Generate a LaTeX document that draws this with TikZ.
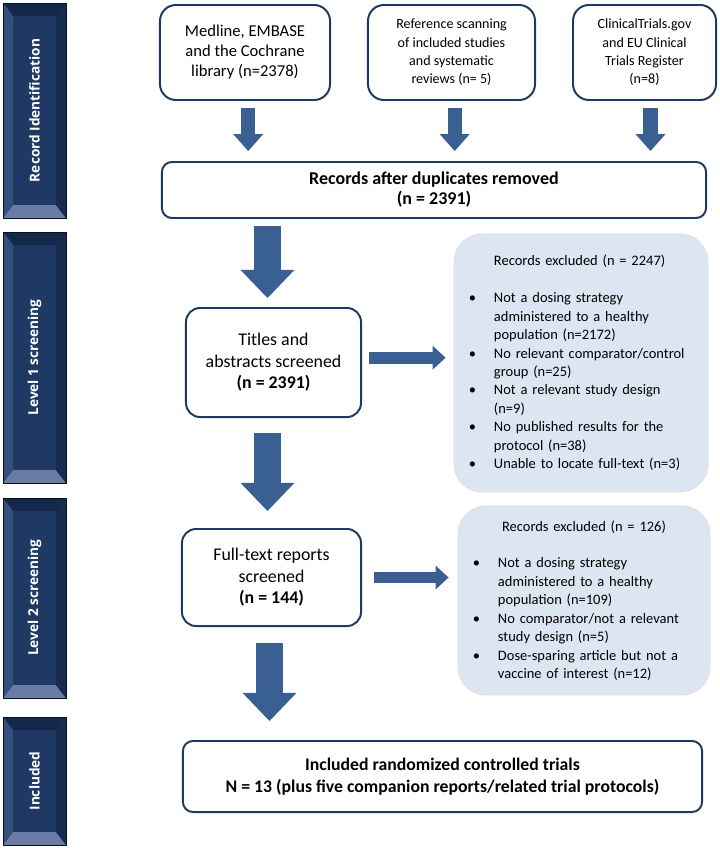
\documentclass[tikz,border=0pt]{standalone}
\usepackage{fontspec}
\setmainfont{Carlito}
\newfontfamily\barfont{Open Sans}
\usepackage{enumitem}
\usetikzlibrary{arrows.meta}

\definecolor{boxline}{HTML}{1F3A60}
\definecolor{arrowblue}{HTML}{3A5F92}
\definecolor{exclfill}{HTML}{DCE6F2}
\definecolor{barface}{HTML}{1F3864}
\definecolor{bartop}{HTML}{14284C}
\definecolor{barleft}{HTML}{34507E}
\definecolor{barright}{HTML}{172B4F}
\definecolor{barbottom}{HTML}{6A7CA3}

\begin{document}
\begin{tikzpicture}
    [x=0.025cm, y=-0.025cm,
      every node/.style={align=center, inner sep=0pt},
      srcbox/.style={draw=boxline, line width=1.4pt, rounded corners=0.4cm,
        font=\fontsize{10}{13}\selectfont}, % top row
      stepbox/.style={draw=boxline, line width=1.4pt, rounded corners=0.35cm,
        font=\fontsize{12.7}{15.3}\selectfont},
      widebox/.style={draw=boxline, line width=1.4pt, rounded corners=0.25cm,
        font=\bfseries\fontsize{12.6}{15.4}\selectfont},
      exclbox/.style={draw=black!12, line width=0.6pt, fill=exclfill, rounded corners=0.7cm,
        align=left, inner xsep=0.25cm, font=\fontsize{10.3}{13.1}\selectfont},
      barlabel/.style={rotate=90, text=white, font=\barfont\bfseries\fontsize{9.7}{11}\selectfont},
      toparrow/.style={draw=arrowblue, line width=10pt,
        -{Triangle[length=12pt, width=21.3pt, line width=0pt]}},
      bigarrow/.style={draw=arrowblue, line width=19.2pt,
        -{Triangle[length=20pt, width=38.4pt, line width=0pt]}},
      sidearrow/.style={draw=arrowblue, line width=8.5pt,
        -{Triangle[length=9.2pt, width=17pt, line width=0pt]}},
     ]
    \useasboundingbox (0,0) rectangle (720,848);

    % stage bars on the left
    \foreach \ya/\yb/\lab [count=\i] in {3/218/Record Identification, 232/483/Level 1 screening,
        498/698/Level 2 screening, 717/845/Included}
    {
      \fill[barface] (3,\ya) rectangle (66,\yb);
      \fill[bartop] (3,\ya) -- (66,\ya) -- (56,{\ya+13}) -- (13,{\ya+13}) -- cycle;
      \fill[barbottom] (3,\yb) -- (66,\yb) -- (56,{\yb-13}) -- (13,{\yb-13}) -- cycle;
      \fill[barleft] (3,\ya) -- (13,{\ya+13}) -- (13,{\yb-13}) -- (3,\yb) -- cycle;
      \fill[barright] (66,\ya) -- (56,{\ya+13}) -- (56,{\yb-13}) -- (66,\yb) -- cycle;
      \draw[black!70!barface, line width=0.4pt] (3,\ya) rectangle (66,\yb);
      \node[barlabel] (bar\i) at (34.5,{(\ya+\yb)/2}) {\lab};
    }

    % identification
    \node[srcbox, minimum width=4.25cm, minimum height=2.375cm,
      font=\fontsize{11.8}{14.2}\selectfont] (medline) at (245,52.5)
      {Medline, EMBASE\\and the Cochrane\\library (n=2378)};
    \node[srcbox, minimum width=4.175cm, minimum height=2.375cm] (refscan) at (451.5,52.5)
      {Reference scanning\\of included studies\\and systematic\\reviews (n= 5)};
    \node[srcbox, minimum width=3.575cm, minimum height=2.375cm] (registers) at (644.5,52.5)
      {ClinicalTrials.gov\\and EU Clinical\\Trials Register\\(n=8)};
    \node[widebox, minimum width=13.6cm, minimum height=1.4cm,
      font=\bfseries\fontsize{12.8}{14.2}\selectfont] (records) at (434,190)
      {Records after duplicates removed\\(n = 2391)};

    % level 1
    \node[stepbox, minimum width=4.375cm, minimum height=2.725cm] (titles) at (273.5,362.5)
      {Titles and\\abstracts screened\\\textbf{(n = 2391)}};
    \node[exclbox, text width=5.85cm, minimum height=6.45cm] (excl1) at (581,363)
      {\hspace*{0.75cm}Records excluded (n = 2247)\par\vspace{\baselineskip}
       \begin{itemize}[nosep, leftmargin=0.75cm, labelsep=0.45cm]
         \item Not a dosing strategy\newline administered to a healthy\newline population (n=2172)
         \item No relevant comparator/control\newline group (n=25)
         \item Not a relevant study design\newline (n=9)
         \item No published results for the\newline protocol (n=38)
         \item Unable to locate full-text (n=3)
       \end{itemize}};

    % level 2
    \node[stepbox, minimum width=4.475cm, minimum height=2.425cm] (fulltext) at (271.5,577.5)
      {Full-text reports\\screened\\\textbf{(n = 144)}};
    \node[exclbox, text width=5.8cm, minimum height=4.725cm] (excl2) at (584,600.5)
      {{\centering Records excluded (n = 126)\par}\vspace{\baselineskip}
       \begin{itemize}[nosep, leftmargin=0.75cm, labelsep=0.45cm]
         \item Not a dosing strategy\newline administered to a healthy\newline population (n=109)
         \item No comparator/not a relevant\newline study design (n=5)
         \item Dose-sparing article but not a\newline vaccine of interest (n=12)
       \end{itemize}};

    % included
    \node[widebox, minimum width=12.975cm, minimum height=1.775cm] (included) at (442.5,776.5)
      {Included randomized controlled trials\\N = 13 (plus five companion reports/related trial protocols)};

    % arrows
    \draw[toparrow, shorten <=0.175cm, shorten >=0.25cm]
      ([xshift=0.08cm]medline.south) -- ([xshift=0.08cm]medline.south |- records.north);
    \draw[toparrow, shorten <=0.175cm, shorten >=0.25cm]
      ([xshift=0.08cm]refscan.south) -- ([xshift=0.08cm]refscan.south |- records.north);
    \draw[toparrow, shorten <=0.175cm, shorten >=0.25cm]
      ([xshift=0.15cm]registers.south) -- ([xshift=0.15cm]registers.south |- records.north);
    \draw[bigarrow, shorten <=0.175cm, shorten >=0.225cm]
      ([xshift=-0.15cm]titles.north |- records.south) -- ([xshift=-0.15cm]titles.north);
    \draw[bigarrow, shorten <=0.375cm, shorten >=0.425cm]
      ([xshift=-0.15cm]titles.south) -- ([xshift=-0.15cm]titles.south |- fulltext.north);
    \draw[bigarrow, shorten <=0.4cm, shorten >=0.475cm]
      ([xshift=-0.05cm]fulltext.south) -- ([xshift=-0.05cm]fulltext.south |- included.north);
    \draw[sidearrow, shorten <=0.175cm, shorten >=0.2cm] ([yshift=0.12cm]titles.east) -- ([yshift=0.12cm]titles.east -| excl1.west);
    \draw[sidearrow, shorten <=0.3cm, shorten >=0.225cm] (fulltext.east) -- (fulltext.east -| excl2.west);
\end{tikzpicture}
\end{document}
